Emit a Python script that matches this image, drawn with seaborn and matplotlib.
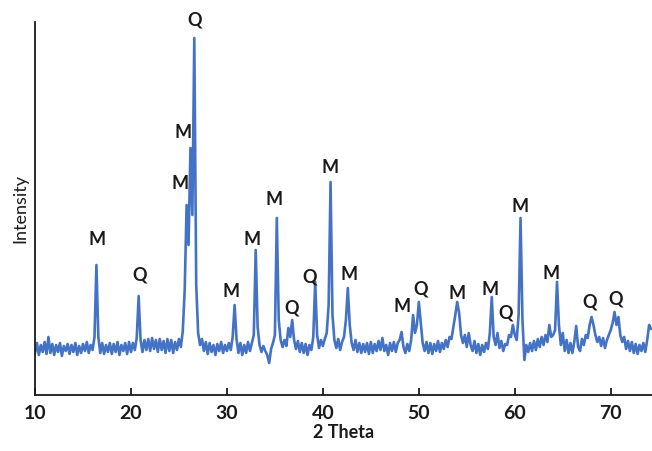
import numpy as np
import pandas as pd
import matplotlib
matplotlib.use("Agg")
import matplotlib.pyplot as plt
import seaborn as sns

# ---- data ----
scan_start = 10.0   # degrees 2-theta
scan_step = 0.2     # degrees between readings

intensity = [
    # 10.0 - 11.8
    42, 52, 40, 50, 43, 53, 41, 58, 42, 51,
    # 12.0 - 13.8
    40, 50, 43, 52, 39, 49, 44, 51, 41, 50,
    # 14.0 - 15.8
    43, 52, 40, 49, 42, 51, 44, 53, 42, 50,
    # 16.0 - 17.8
    45, 58, 130, 58, 42, 52, 41, 50, 43, 52,
    # 18.0 - 19.8
    41, 51, 43, 53, 40, 50, 44, 52, 41, 53,
    # 20.0 - 21.8
    43, 52, 45, 57, 99, 55, 43, 55, 45, 56,
    # 22.0 - 23.8
    44, 57, 46, 55, 43, 56, 45, 54, 42, 56,
    # 24.0 - 25.8
    44, 55, 42, 53, 45, 56, 48, 64, 105, 190,
    # 26.0 - 27.8
    150, 247, 180, 357, 110, 62, 50, 56, 44, 53,
    # 28.0 - 29.8
    41, 52, 43, 50, 40, 51, 44, 53, 42, 50,
    # 30.0 - 31.8
    44, 52, 45, 58, 90, 56, 42, 52, 40, 50,
    # 32.0 - 33.8
    42, 53, 44, 52, 60, 145, 68, 50, 43, 49,
    # 34.0 - 35.8
    44, 40, 32, 46, 52, 60, 177, 75, 55, 48,
    # 36.0 - 37.8
    55, 49, 67, 58, 75, 55, 46, 54, 43, 52,
    # 38.0 - 39.8
    42, 51, 40, 50, 45, 58, 113, 60, 47, 55,
    # 40.0 - 41.8
    49, 56, 62, 90, 213, 80, 55, 47, 56, 45,
    # 42.0 - 43.8
    53, 58, 75, 107, 70, 52, 45, 55, 43, 52,
    # 44.0 - 45.8
    42, 51, 43, 52, 41, 53, 42, 51, 44, 54,
    # 46.0 - 47.8
    45, 57, 44, 50, 40, 52, 44, 53, 43, 52,
    # 48.0 - 49.8
    55, 63, 48, 42, 51, 44, 55, 80, 62, 70,
    # 50.0 - 51.8
    93, 72, 52, 44, 53, 42, 52, 41, 51, 44,
    # 52.0 - 53.8
    54, 43, 52, 46, 55, 48, 58, 56, 68, 80,
    # 54.0 - 55.8
    93, 82, 60, 52, 60, 48, 62, 50, 44, 54,
    # 56.0 - 57.8
    42, 51, 40, 50, 43, 52, 46, 62, 98, 58,
    # 58.0 - 59.8
    50, 62, 47, 54, 44, 51, 50, 60, 58, 70,
    # 60.0 - 61.8
    60, 55, 80, 177, 75, 35, 50, 43, 52, 44,
    # 62.0 - 63.8
    54, 45, 56, 48, 58, 50, 60, 53, 70, 58,
    # 64.0 - 65.8
    60, 65, 113, 70, 50, 62, 44, 55, 42, 52,
    # 66.0 - 67.8
    42, 53, 69, 48, 44, 56, 50, 60, 57, 70,
    # 68.0 - 69.8
    78, 70, 60, 53, 58, 49, 57, 47, 55, 60,
    # 70.0 - 71.8
    65, 72, 83, 70, 78, 60, 53, 58, 46, 54,
    # 72.0 - 73.8
    44, 53, 42, 51, 41, 50, 44, 52, 43, 55,
    # 74.0 - 74.2
    70, 66,
]

two_theta = np.round(scan_start + scan_step * np.arange(len(intensity)), 2)

# phase labels: text, 2-theta, intensity where the label sits
label_text = ["M", "Q", "M", "M", "Q", "M", "M", "M", "Q", "Q", "M",
              "M", "M", "Q", "M", "M", "Q", "M", "M", "Q", "Q"]
label_theta = [16.49, 20.90, 25.07, 25.48, 26.63, 30.39, 32.58, 34.87,
               36.75, 38.62, 40.71, 42.69, 48.22, 50.20, 53.95, 57.39,
               59.06, 60.52, 63.75, 67.82, 70.53]
label_int = [155, 120, 211, 263, 375, 103, 155, 195, 87, 118, 227,
             120, 88, 106, 101, 105, 82, 188, 121, 93, 96]

x_ticks = [10, 20, 30, 40, 50, 60, 70]

df = pd.DataFrame({"2 Theta": two_theta, "Intensity": intensity})

# ---- plot ----
sns.set_theme(style="white")
plt.rcParams["font.family"] = ["Lato", "DejaVu Sans"]

fig = plt.figure(figsize=(6.52, 4.51), dpi=100)
ax = fig.add_axes([0.0537, 0.1242, 0.9463, 0.8270])

sns.lineplot(data=df, x="2 Theta", y="Intensity", ax=ax, color="#4472C4",
             linewidth=1.9, estimator=None, sort=False)

for t, xv, yv in zip(label_text, label_theta, label_int):
    ax.text(xv, yv, t, ha="center", va="center", fontsize=13,
            fontweight="bold", color="#1a1a1a", clip_on=False)

ax.set_xlim(10, 74.3)
ax.set_ylim(0, 373)
ax.set_xticks(x_ticks)
ax.set_yticks([])
ax.tick_params(axis="x", direction="in", length=5, width=1.3,
               colors="#1a1a1a", labelsize=14, pad=7, bottom=True)
for lab in ax.get_xticklabels():
    lab.set_fontweight("bold")

ax.set_xlabel("2 Theta", fontsize=13, fontweight="bold", color="#1a1a1a",
              labelpad=2)
ax.set_ylabel("Intensity", fontsize=13, color="#1a1a1a", labelpad=5)

for s in ["top", "right"]:
    ax.spines[s].set_visible(False)
for s in ["left", "bottom"]:
    ax.spines[s].set_color("#1a1a1a")
    ax.spines[s].set_linewidth(1.3)

fig.savefig("out.png", dpi=100)
